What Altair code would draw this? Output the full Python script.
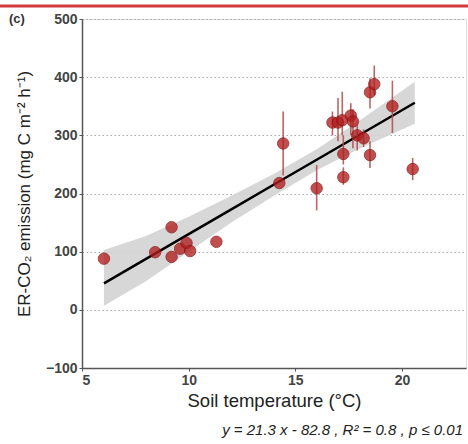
import altair as alt
import pandas as pd

# Points
soil_temp = [6.03, 8.43, 9.2, 9.2, 9.6, 9.9, 10.07, 11.3, 14.25, 14.43, 16.0, 16.74, 17.0,
             17.2, 17.25, 17.25, 17.6, 17.7, 17.9, 18.2, 18.5, 18.5, 18.7, 19.55, 20.5]
er_co2 = [88, 99, 142, 91, 105, 115, 101, 117, 218, 286, 209, 322, 322,
          326, 268, 228, 334, 324, 300, 295, 374, 266, 388, 350, 242]
err_low = [88, 99, 142, 91, 105, 115, 101, 117, 218, 231, 171, 300, 290,
           300, 250, 215, 300, 278, 274, 280, 346, 244, 369, 304, 223]
err_high = [88, 99, 142, 91, 105, 115, 101, 117, 218, 341, 249, 341, 364,
            375, 300, 245, 355, 345, 318, 310, 398, 290, 420, 394, 261]

# Fitted line and confidence band
fit_x = [6.03, 8, 10, 12, 14, 16, 18, 20.6]
fit_y = [45.6, 87.6, 130.2, 172.8, 215.4, 258.0, 300.6, 356.0]
band_lo = [7, 49, 100, 150, 196, 240, 277, 320]
band_hi = [103, 127, 160, 196, 234, 276, 325, 392]

x_ticks = [5, 10, 15, 20]
y_ticks = [-100, 0, 100, 200, 300, 400, 500]

pts = pd.DataFrame({"x": soil_temp, "y": er_co2, "lo": err_low, "hi": err_high})
fit = pd.DataFrame({"x": fit_x, "y": fit_y, "lo": band_lo, "hi": band_hi})
one = alt.Data(values=[{"k": 1}])

W, H = 384, 349
xs = alt.Scale(domain=[5, 23], nice=False, zero=False)
ys = alt.Scale(domain=[-100, 500], nice=False, zero=False)

xaxis = alt.Axis(values=x_ticks, title="Soil temperature (°C)", grid=False,
                 labelFont="Liberation Sans", labelFontSize=14, labelFontWeight="bold",
                 labelColor="#444", titleFont="Liberation Sans", titleFontSize=18.5,
                 titleFontWeight="normal", titleColor="#222", domainColor="#555",
                 domainWidth=1.5, tickColor="#555", tickSize=3, labelPadding=2,
                 titlePadding=4)
yaxis = alt.Axis(values=y_ticks, title="ER-CO₂ emission (mg C m⁻² h⁻¹)",
                 grid=True, gridDash=[1.5, 2.5], gridColor="#aaa", gridWidth=1.2,
                 labelFont="Liberation Sans", labelFontSize=14, labelFontWeight="bold",
                 labelColor="#444", titleFont="Liberation Sans", titleFontSize=17,
                 titleFontWeight="normal", titleColor="#222", domainColor="#555",
                 domainWidth=1.5, tickColor="#555", tickSize=3, labelPadding=2,
                 titlePadding=12)

band = alt.Chart(fit).mark_area(color="#d3d3d3", opacity=0.9).encode(
    x=alt.X("x:Q", scale=xs, axis=xaxis),
    y=alt.Y("lo:Q", scale=ys, axis=yaxis),
    y2="hi:Q",
)
line = alt.Chart(fit).mark_line(color="black", strokeWidth=2.5).encode(
    x=alt.X("x:Q", scale=xs), y=alt.Y("y:Q", scale=ys)
)
errs = alt.Chart(pts).mark_rule(color="#b04a4a", strokeWidth=1.6, opacity=0.85).encode(
    x=alt.X("x:Q", scale=xs), y=alt.Y("lo:Q", scale=ys), y2="hi:Q"
)
dots = alt.Chart(pts).mark_circle(size=130, color="#b01e1e", opacity=0.78,
                                  stroke="#8b1010", strokeWidth=1).encode(
    x=alt.X("x:Q", scale=xs), y=alt.Y("y:Q", scale=ys)
)

top_bar = alt.Chart(one).mark_rule(color="#d13a3f", strokeWidth=3).encode(
    x=alt.value(-82), x2=alt.value(386), y=alt.value(-13)
)
label_c = alt.Chart(one).mark_text(text="(c)", font="Liberation Sans", fontSize=13,
                                   fontWeight="bold", color="#333", align="left",
                                   baseline="middle").encode(
    x=alt.value(-73), y=alt.value(0)
)
eq = alt.Chart(one).mark_text(text="y = 21.3 x - 82.8 , R² = 0.8 , p ≤ 0.01",
                              font="Liberation Sans", fontSize=15, fontStyle="italic",
                              color="#222", align="right", baseline="middle").encode(
    x=alt.value(381), y=alt.value(411)
)

chart = alt.layer(band, line, errs, dots, top_bar, label_c, eq).properties(
    width=W, height=H,
    autosize=alt.AutoSizeParams(type="none"),
    padding={"left": 82, "top": 19, "right": 2, "bottom": 76},
).configure_view(stroke=None).configure(background="white")

chart.save("out.html", embed_options={"renderer": "svg", "actions": False})
